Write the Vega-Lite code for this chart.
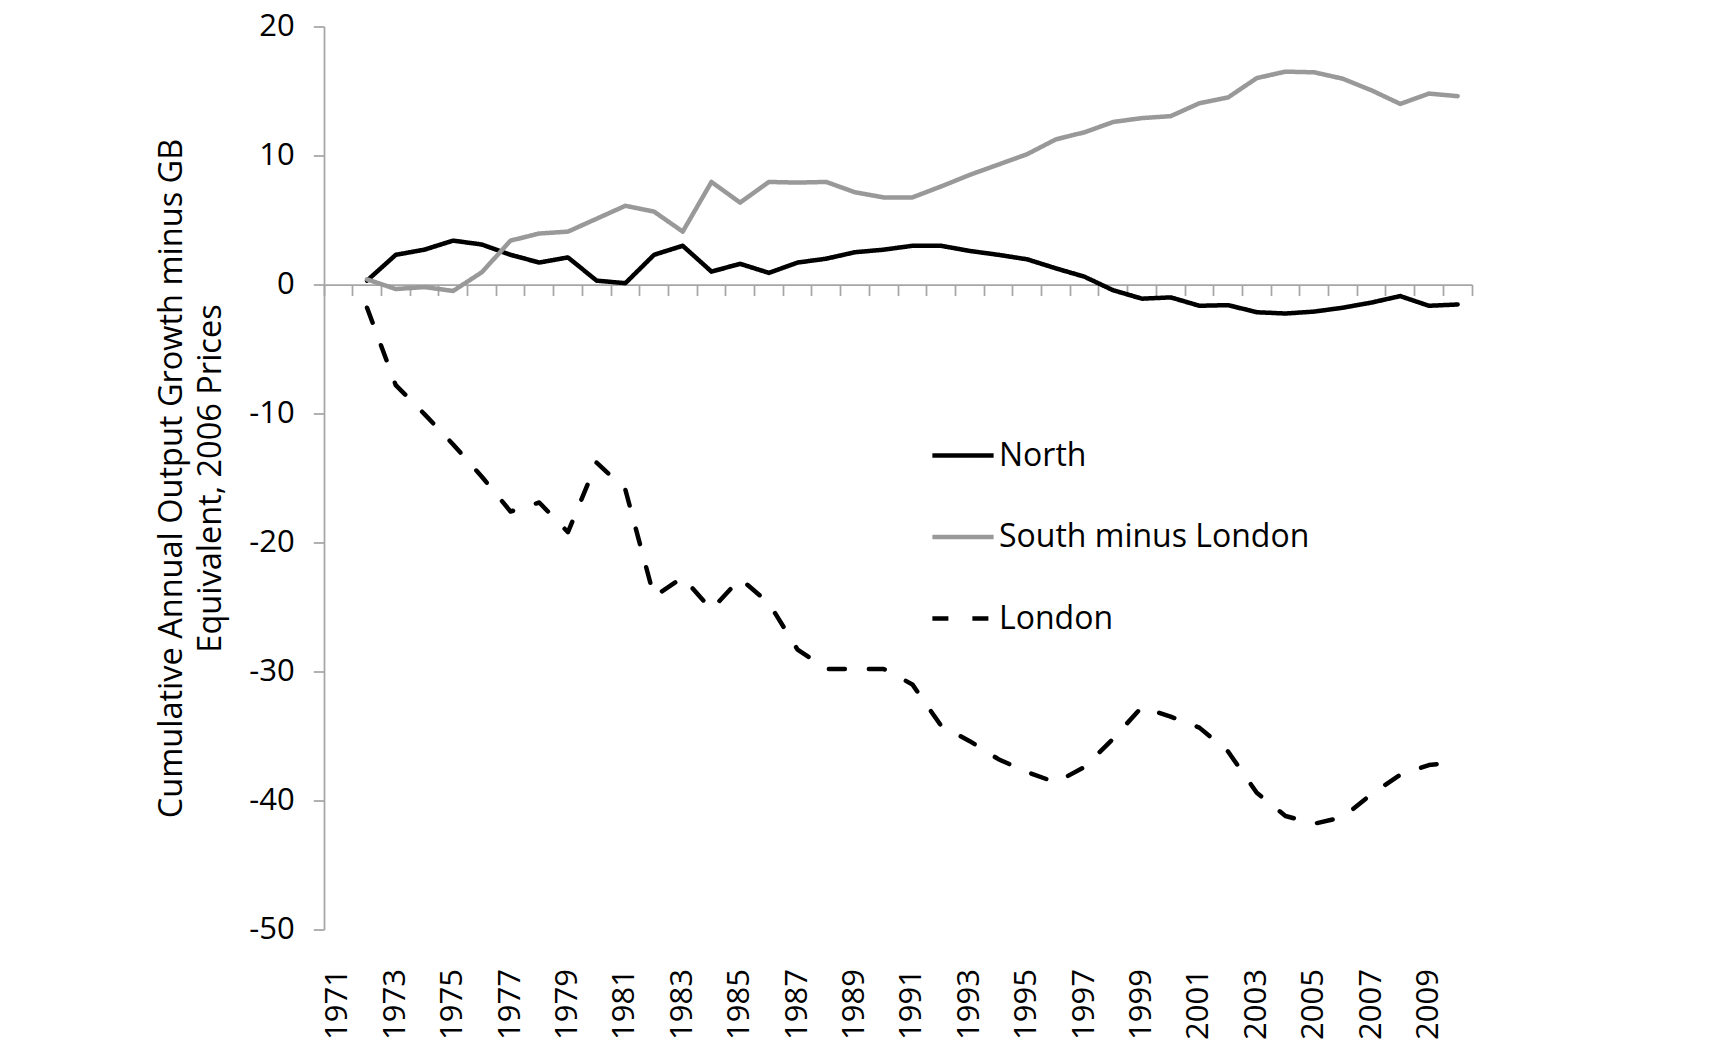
{
  "$schema": "https://vega.github.io/schema/vega-lite/v6.json",
  "autosize": {"type": "none"},
  "padding": {"left": 324, "top": 26.5, "right": 263, "bottom": 121.5},
  "width": 1148,
  "height": 903,
  "background": "white",
  "config": {
    "view": {"stroke": null},
    "font": "Open Sans"
  },
  "data": {
    "values": [
      {"series": "North", "year": 1972, "value": 0.3},
      {"series": "North", "year": 1973, "value": 2.3},
      {"series": "North", "year": 1974, "value": 2.7},
      {"series": "North", "year": 1975, "value": 3.4},
      {"series": "North", "year": 1976, "value": 3.1},
      {"series": "North", "year": 1977, "value": 2.3},
      {"series": "North", "year": 1978, "value": 1.7},
      {"series": "North", "year": 1979, "value": 2.1},
      {"series": "North", "year": 1980, "value": 0.3},
      {"series": "North", "year": 1981, "value": 0.1},
      {"series": "North", "year": 1982, "value": 2.3},
      {"series": "North", "year": 1983, "value": 3.0},
      {"series": "North", "year": 1984, "value": 1.0},
      {"series": "North", "year": 1985, "value": 1.6},
      {"series": "North", "year": 1986, "value": 0.9},
      {"series": "North", "year": 1987, "value": 1.7},
      {"series": "North", "year": 1988, "value": 2.0},
      {"series": "North", "year": 1989, "value": 2.5},
      {"series": "North", "year": 1990, "value": 2.7},
      {"series": "North", "year": 1991, "value": 3.0},
      {"series": "North", "year": 1992, "value": 3.0},
      {"series": "North", "year": 1993, "value": 2.6},
      {"series": "North", "year": 1994, "value": 2.3},
      {"series": "North", "year": 1995, "value": 1.95},
      {"series": "North", "year": 1996, "value": 1.25},
      {"series": "North", "year": 1997, "value": 0.6},
      {"series": "North", "year": 1998, "value": -0.45},
      {"series": "North", "year": 1999, "value": -1.1},
      {"series": "North", "year": 2000, "value": -1.0},
      {"series": "North", "year": 2001, "value": -1.65},
      {"series": "North", "year": 2002, "value": -1.6},
      {"series": "North", "year": 2003, "value": -2.15},
      {"series": "North", "year": 2004, "value": -2.25},
      {"series": "North", "year": 2005, "value": -2.1},
      {"series": "North", "year": 2006, "value": -1.8},
      {"series": "North", "year": 2007, "value": -1.4},
      {"series": "North", "year": 2008, "value": -0.9},
      {"series": "North", "year": 2009, "value": -1.65},
      {"series": "North", "year": 2010, "value": -1.55},
      {"series": "South minus London", "year": 1972, "value": 0.4},
      {"series": "South minus London", "year": 1973, "value": -0.35},
      {"series": "South minus London", "year": 1974, "value": -0.2},
      {"series": "South minus London", "year": 1975, "value": -0.5},
      {"series": "South minus London", "year": 1976, "value": 0.95},
      {"series": "South minus London", "year": 1977, "value": 3.4},
      {"series": "South minus London", "year": 1978, "value": 3.95},
      {"series": "South minus London", "year": 1979, "value": 4.1},
      {"series": "South minus London", "year": 1980, "value": 5.1},
      {"series": "South minus London", "year": 1981, "value": 6.1},
      {"series": "South minus London", "year": 1982, "value": 5.65},
      {"series": "South minus London", "year": 1983, "value": 4.1},
      {"series": "South minus London", "year": 1984, "value": 7.95},
      {"series": "South minus London", "year": 1985, "value": 6.35},
      {"series": "South minus London", "year": 1986, "value": 7.95},
      {"series": "South minus London", "year": 1987, "value": 7.9},
      {"series": "South minus London", "year": 1988, "value": 7.95},
      {"series": "South minus London", "year": 1989, "value": 7.15},
      {"series": "South minus London", "year": 1990, "value": 6.75},
      {"series": "South minus London", "year": 1991, "value": 6.75},
      {"series": "South minus London", "year": 1992, "value": 7.6},
      {"series": "South minus London", "year": 1993, "value": 8.5},
      {"series": "South minus London", "year": 1994, "value": 9.3},
      {"series": "South minus London", "year": 1995, "value": 10.1},
      {"series": "South minus London", "year": 1996, "value": 11.25},
      {"series": "South minus London", "year": 1997, "value": 11.8},
      {"series": "South minus London", "year": 1998, "value": 12.6},
      {"series": "South minus London", "year": 1999, "value": 12.9},
      {"series": "South minus London", "year": 2000, "value": 13.05},
      {"series": "South minus London", "year": 2001, "value": 14.05},
      {"series": "South minus London", "year": 2002, "value": 14.5},
      {"series": "South minus London", "year": 2003, "value": 16.0},
      {"series": "South minus London", "year": 2004, "value": 16.5},
      {"series": "South minus London", "year": 2005, "value": 16.45},
      {"series": "South minus London", "year": 2006, "value": 15.95},
      {"series": "South minus London", "year": 2007, "value": 15.05},
      {"series": "South minus London", "year": 2008, "value": 14.0},
      {"series": "South minus London", "year": 2009, "value": 14.8},
      {"series": "South minus London", "year": 2010, "value": 14.6},
      {"series": "London", "year": 1972, "value": -1.8},
      {"series": "London", "year": 1973, "value": -7.8},
      {"series": "London", "year": 1974, "value": -10.05},
      {"series": "London", "year": 1975, "value": -12.4},
      {"series": "London", "year": 1976, "value": -14.9},
      {"series": "London", "year": 1977, "value": -17.6},
      {"series": "London", "year": 1978, "value": -16.9},
      {"series": "London", "year": 1979, "value": -19.2},
      {"series": "London", "year": 1980, "value": -13.8},
      {"series": "London", "year": 1981, "value": -15.9},
      {"series": "London", "year": 1982, "value": -24.2},
      {"series": "London", "year": 1983, "value": -22.7},
      {"series": "London", "year": 1984, "value": -25.2},
      {"series": "London", "year": 1985, "value": -22.8},
      {"series": "London", "year": 1986, "value": -24.7},
      {"series": "London", "year": 1987, "value": -28.3},
      {"series": "London", "year": 1988, "value": -29.8},
      {"series": "London", "year": 1989, "value": -29.8},
      {"series": "London", "year": 1990, "value": -29.8},
      {"series": "London", "year": 1991, "value": -31.0},
      {"series": "London", "year": 1992, "value": -34.2},
      {"series": "London", "year": 1993, "value": -35.4},
      {"series": "London", "year": 1994, "value": -36.8},
      {"series": "London", "year": 1995, "value": -37.8},
      {"series": "London", "year": 1996, "value": -38.6},
      {"series": "London", "year": 1997, "value": -37.4},
      {"series": "London", "year": 1998, "value": -35.2},
      {"series": "London", "year": 1999, "value": -32.75},
      {"series": "London", "year": 2000, "value": -33.5},
      {"series": "London", "year": 2001, "value": -34.35},
      {"series": "London", "year": 2002, "value": -36.2},
      {"series": "London", "year": 2003, "value": -39.4},
      {"series": "London", "year": 2004, "value": -41.2},
      {"series": "London", "year": 2005, "value": -41.8},
      {"series": "London", "year": 2006, "value": -41.3},
      {"series": "London", "year": 2007, "value": -39.5},
      {"series": "London", "year": 2008, "value": -38.0},
      {"series": "London", "year": 2009, "value": -37.25},
      {"series": "London", "year": 2010, "value": -37.0}
    ]
  },
  "resolve": {"axis": {"x": "independent"}},
  "layer": [
    {
      "mark": {"type": "line", "strokeWidth": 4.5, "strokeCap": "round", "strokeJoin": "round"},
      "encoding": {
        "x": {
          "field": "year", "type": "ordinal", "bandPosition": 0.5,
          "scale": {"type": "band", "paddingInner": 0, "paddingOuter": 0,
            "domain": [1971,1972,1973,1974,1975,1976,1977,1978,1979,1980,1981,1982,1983,1984,1985,1986,1987,1988,1989,1990,1991,1992,1993,1994,1995,1996,1997,1998,1999,2000,2001,2002,2003,2004,2005,2006,2007,2008,2009,2010]},
          "axis": {
            "orient": "bottom", "values": [1971,1973,1975,1977,1979,1981,1983,1985,1987,1989,1991,1993,1995,1997,1999,2001,2003,2005,2007,2009],
            "labelAngle": 270, "labelFontSize": 31, "labelFont": "Open Sans", "labelColor": "#000000",
            "labelPadding": 39, "domain": false, "ticks": false, "tickSize": 0, "grid": false, "title": null
          }
        },
        "y": {
          "field": "value", "type": "quantitative",
          "scale": {"domain": [-50, 20], "nice": false, "zero": false},
          "axis": {
            "values": [-50,-40,-30,-20,-10,0,10,20],
            "labelExpr": "toString(datum.value)",
            "grid": false, "tickSize": 10.7, "tickWidth": 1.75, "tickColor": "#a6a6a6",
            "domainColor": "#a6a6a6", "domainWidth": 1.75,
            "labelFontSize": 31, "labelFont": "Open Sans", "labelColor": "#000000", "labelPadding": 19,
            "title": ["Cumulative Annual Output Growth minus GB", "Equivalent, 2006 Prices"],
            "titleFontSize": 32.5, "titleFont": "Open Sans", "titleFontWeight": "normal", "titleColor": "#000000",
            "titlePadding": 21, "titleLineHeight": 39
          }
        },
        "color": {
          "field": "series", "type": "nominal",
          "scale": {"domain": ["North", "South minus London", "London"], "range": ["#000000", "#999999", "#000000"]},
          "legend": {
            "title": null, "orient": "none", "legendX": 606, "legendY": 396,
            "symbolType": "stroke", "symbolSize": 3750, "symbolStrokeWidth": 4.5,
            "labelFontSize": 32, "labelFont": "Open Sans", "labelColor": "#000000", "labelLimit": 0,
            "labelOffset": 3, "rowPadding": 32.5, "padding": 0
          }
        },
        "strokeDash": {
          "field": "series", "type": "nominal",
          "scale": {"domain": ["North", "South minus London", "London"], "range": [[1, 0], [1, 0], [16, 24]]},
          "legend": {
            "title": null, "orient": "none", "legendX": 606, "legendY": 396,
            "symbolType": "stroke", "symbolSize": 3750, "symbolStrokeWidth": 4.5,
            "labelFontSize": 32, "labelFont": "Open Sans", "labelColor": "#000000", "labelLimit": 0,
            "labelOffset": 3, "rowPadding": 32.5, "padding": 0
          }
        }
      }
    },
    {
      "mark": {"type": "line", "opacity": 0},
      "encoding": {
        "x": {
          "field": "year", "type": "ordinal", "bandPosition": 0.5,
          "axis": {
            "orient": "bottom", "offset": -645, "labels": false, "title": null, "grid": false,
            "ticks": true, "tickSize": 11, "tickWidth": 1.75, "tickColor": "#a6a6a6",
            "bandPosition": 1, "tickExtra": true,
            "domain": true, "domainColor": "#a6a6a6", "domainWidth": 1.75
          }
        },
        "y": {
          "field": "value", "type": "quantitative",
          "axis": {
            "values": [-50,-40,-30,-20,-10,0,10,20],
            "labelExpr": "toString(datum.value)",
            "grid": false, "tickSize": 10.7, "tickWidth": 1.75, "tickColor": "#a6a6a6",
            "domainColor": "#a6a6a6", "domainWidth": 1.75,
            "labelFontSize": 31, "labelFont": "Open Sans", "labelColor": "#000000", "labelPadding": 19,
            "title": ["Cumulative Annual Output Growth minus GB", "Equivalent, 2006 Prices"],
            "titleFontSize": 32.5, "titleFont": "Open Sans", "titleFontWeight": "normal", "titleColor": "#000000",
            "titlePadding": 21, "titleLineHeight": 39
          }
        },
        "detail": {"field": "series"}
      }
    }
  ]
}
